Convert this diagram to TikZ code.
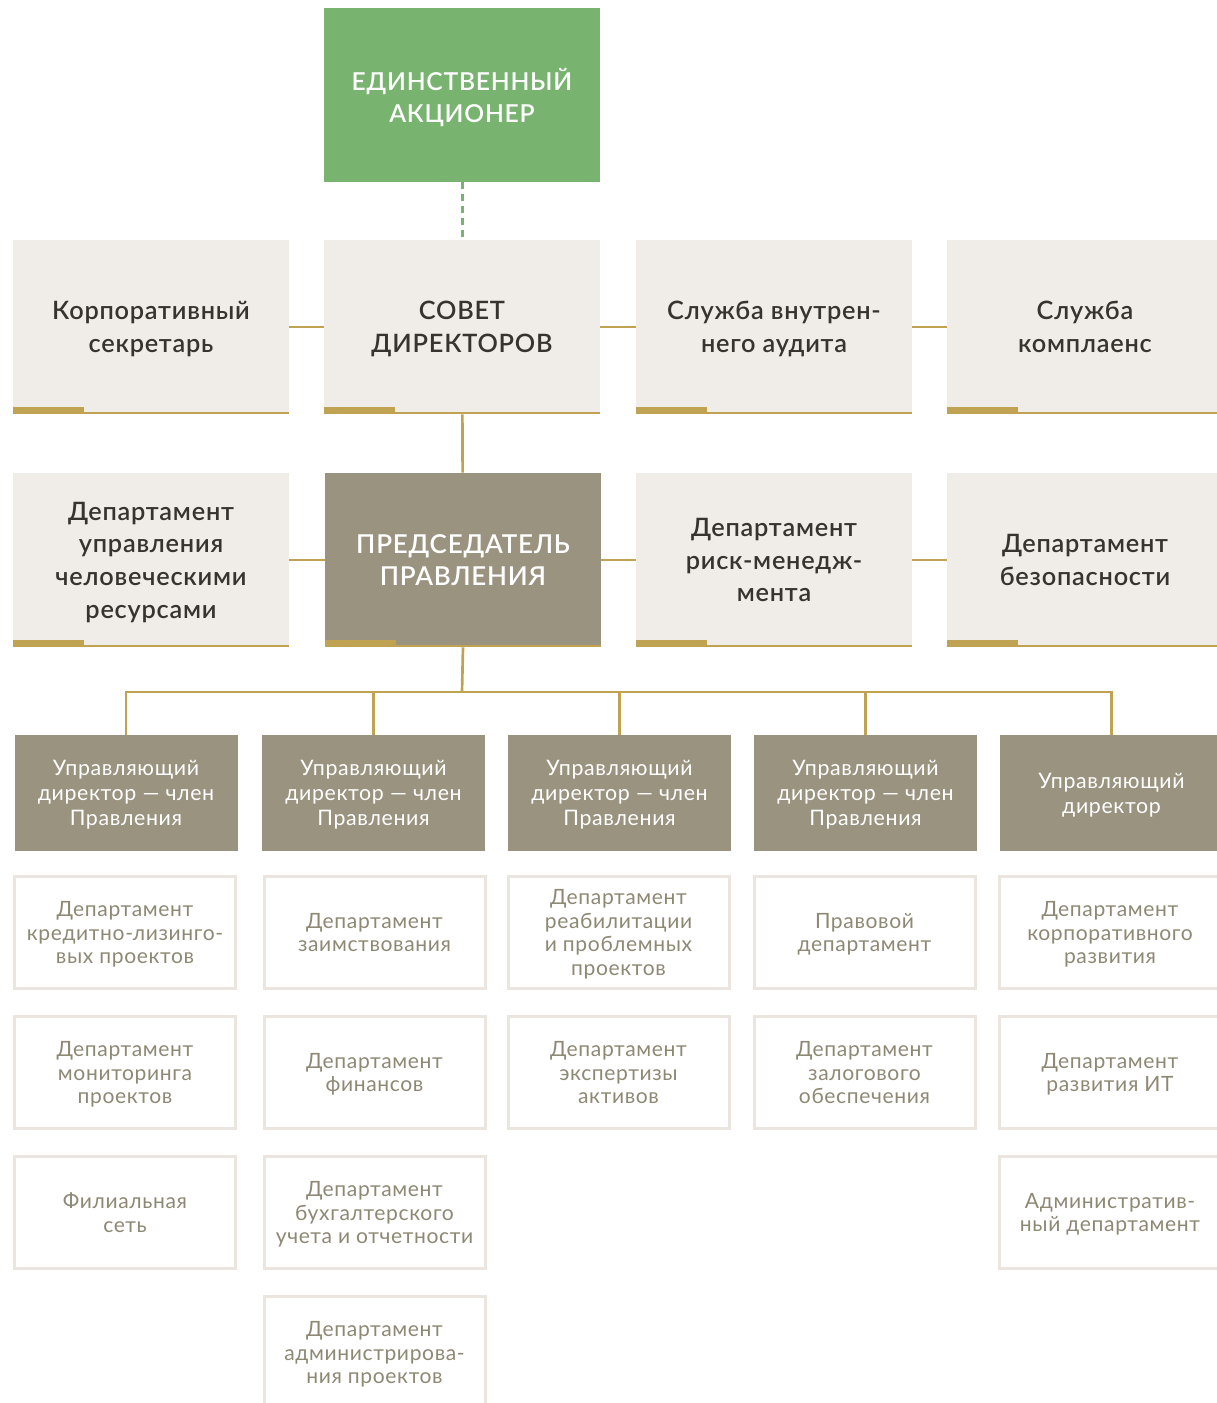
\documentclass[tikz,border=0pt]{standalone}
\usepackage{fontspec}
\setmainfont{Lato}[BoldFont={Lato Semibold}, LetterSpace=3]
\usepackage{tikz}

\definecolor{green}{HTML}{78B36F}
\definecolor{beige}{HTML}{F0EDE8}
\definecolor{gold}{HTML}{BFA252}
\definecolor{olive}{HTML}{99937F}
\definecolor{ink}{HTML}{37332F}
\definecolor{greytext}{HTML}{8E8975}
\definecolor{rim}{HTML}{EAE6DF}

\tikzset{
	head/.style={fill=green, text=white, font=\bfseries\fontsize{18.5}{24}\selectfont, align=center, inner sep=0pt, text depth=0pt, minimum width=207pt, minimum height=130.5pt},
	light/.style={fill=beige, text=ink, font=\bfseries\fontsize{19}{24.5}\selectfont, align=center, inner sep=0pt, text depth=0pt, minimum width=207pt, minimum height=130.5pt},
	dark/.style={light, fill=olive, text=white, font=\bfseries\fontsize{19.5}{24.5}\selectfont},
	mdbox/.style={fill=olive, text=white, font=\fontsize{16}{18.75}\selectfont, align=center, inner sep=0pt, text depth=0pt, minimum width=167.25pt, minimum height=87pt},
	dept/.style={fill=white, draw=rim, line width=2.25pt, text=greytext, font=\fontsize{15.8}{17.6}\selectfont, align=center, inner sep=0pt, text depth=0pt, minimum width=165.75pt, minimum height=84pt},
	link/.style={draw=gold, line width=2pt},
	dashlink/.style={draw=green, line width=2.25pt, dash pattern=on 5.25pt off 3.75pt}
}

\begin{document}
\begin{tikzpicture}[x=0.75pt, y=-0.75pt]
	\path[use as bounding box, clip] (0,0) rectangle (1217,1403);

	\node[head]  (owner)  at (462, 95)   {ЕДИНСТВЕННЫЙ\\АКЦИОНЕР};

	\node[light] (secr)   at (151, 327)  {Корпоративный\\секретарь};
	\node[light] (board)  at (462, 327)  {СОВЕТ\\ДИРЕКТОРОВ};
	\node[light] (audit)  at (774, 327)  {Служба внутрен-\\него аудита};
	\node[light] (compl)  at (1085, 327) {Служба\\комплаенс};

	\node[light] (hr)     at (151, 560)  {Департамент\\управления\\человеческими\\ресурсами};
	\node[dark]  (chair)  at (463, 560)  {ПРЕДСЕДАТЕЛЬ\\ПРАВЛЕНИЯ};
	\node[light] (risk)   at (774, 560)  {Департамент\\риск-менедж-\\мента};
	\node[light] (secur)  at (1085, 560) {Департамент\\безопасности};

	\node[mdbox] (md1)    at (126, 793)    {Управляющий\\директор — член\\Правления};
	\node[mdbox] (md2)    at (373.5, 793)  {Управляющий\\директор — член\\Правления};
	\node[mdbox] (md3)    at (619.5, 793)  {Управляющий\\директор — член\\Правления};
	\node[mdbox] (md4)    at (865.5, 793)  {Управляющий\\директор — член\\Правления};
	\node[mdbox] (md5)    at (1111.5, 793) {Управляющий\\директор};

	\node[dept]  (lease)  at (125, 932.5)   {Департамент\\кредитно-лизинго-\\вых проектов};
	\node[dept]  (monit)  at (125, 1072.5)  {Департамент\\мониторинга\\проектов};
	\node[dept]  (branch) at (125, 1212.5)  {Филиальная\\сеть};

	\node[dept]  (borrow) at (374.5, 932.5)  {Департамент\\заимствования};
	\node[dept]  (fin)    at (374.5, 1072.5) {Департамент\\финансов};
	\node[dept]  (acct)   at (374.5, 1212.5) {Департамент\\бухгалтерского\\учета и отчетности};
	\node[dept]  (admpr)  at (374.5, 1352.5) {Департамент\\администрирова-\\ния проектов};

	\node[dept]  (rehab)  at (618.5, 932.5)  {Департамент\\реабилитации\\и проблемных\\проектов};
	\node[dept]  (expert) at (618.5, 1072.5) {Департамент\\экспертизы\\активов};

	\node[dept]  (legal)  at (864.5, 932.5)  {Правовой\\департамент};
	\node[dept]  (pledge) at (864.5, 1072.5) {Департамент\\залогового\\обеспечения};

	\node[dept]  (corp)   at (1110, 932.5)  {Департамент\\корпоративного\\развития};
	\node[dept]  (it)     at (1110, 1072.5) {Департамент\\развития ИТ};
	\node[dept]  (admin)  at (1110, 1212.5) {Административ-\\ный департамент};

	\foreach \n in {secr, board, audit, compl, hr, chair, risk, secur} {
		\fill[gold] (\n.south west) rectangle ++(71,-7);
		\draw[gold, line width=2pt] ([yshift=1pt]\n.south west) -- ([yshift=1pt]\n.south east);
	}

	\path[dashlink] (owner) edge (board);
	\path[link] (secr) edge (board);
	\path[link] (board) edge (audit);
	\path[link] (audit) edge (compl);
	\path[link] (board) edge (chair);
	\path[link] (hr) edge (chair);
	\path[link] (chair) edge (risk);
	\path[link] (risk) edge (secur);

	\coordinate (bus) at (462, 692);
	\draw[link] (chair.south) -- (bus);
	\foreach \m in {md1, md2, md3, md4, md5}
		\draw[link] (bus) -| (\m.north);

\end{tikzpicture}
\end{document}
